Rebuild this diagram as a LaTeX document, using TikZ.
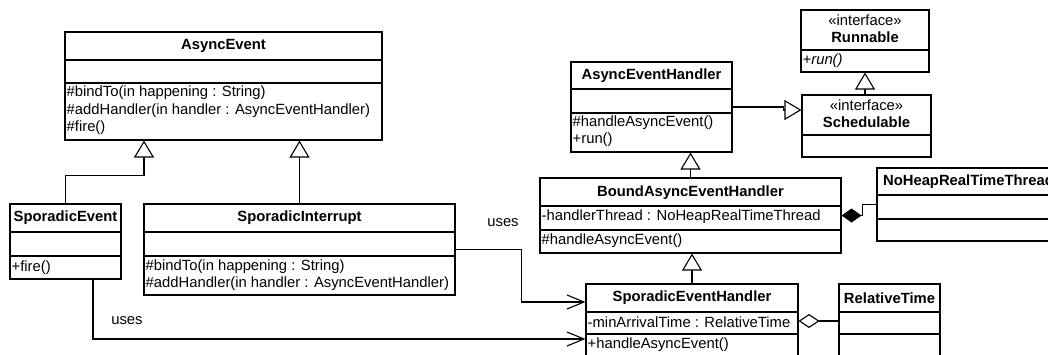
\documentclass[tikz,border=0pt]{standalone}
\usepackage{fontspec}
\setmainfont{Liberation Sans}
\usetikzlibrary{arrows.meta,fit,calc}
\begin{document}
\begin{tikzpicture}[x=1pt,y=-1pt,
  cls/.style={draw, line width=1.1pt, inner sep=0pt},
  ttl/.style={font=\fontsize{14.8}{17}\selectfont\bfseries, inner sep=0pt},
  txt/.style={font=\fontsize{14.8}{17}\selectfont, inner sep=0pt, anchor=west},
  lbl/.style={font=\fontsize{14.8}{17}\selectfont, inner sep=0pt},
  div/.style={line width=1.1pt},
  gen/.style={line width=1.1pt, -{Triangle[open, length=17pt, width=20pt, fill=white]}},
  dep/.style={line width=1.1pt, -{Straight Barb[length=17pt, width=14pt]}},
  comp/.style={line width=1.1pt, {Diamond[length=20pt, width=14pt]}-},
  agg/.style={line width=1.1pt, {Diamond[open, length=21pt, width=14pt, fill=white]}-},
]
\clip (0,0) rectangle (1048,354);
\fill[white] (0,0) rectangle (1048,354);

% AsyncEvent
\node[cls, fit={(65,32) (382,140)}] (ae) {};
\node[ttl] (aet) at (223.5,46) {AsyncEvent};
\draw[div] (ae.west |- 0,60) -- (ae.east |- 0,60);
\draw[div] (ae.west |- 0,83) -- (ae.east |- 0,83);
\node[txt] (ae1) at (66.5,93) {\#bindTo(in happening : String)};
\node[txt] (ae2) at (66.5,111) {\#addHandler(in handler : AsyncEventHandler)};
\node[txt] (ae3) at (66.5,128) {\#fire()};

% SporadicEvent
\node[cls, fit={(10,204) (121,279)}] (se) {};
\node[ttl] (set) at (65.5,218) {SporadicEvent};
\draw[div] (se.west |- 0,232) -- (se.east |- 0,232);
\draw[div] (se.west |- 0,256) -- (se.east |- 0,256);
\node[txt] (se1) at (11.5,268) {+fire()};

% SporadicInterrupt
\node[cls, fit={(144,204) (455,295)}] (si) {};
\node[ttl] (sit) at (299.5,218) {SporadicInterrupt};
\draw[div] (si.west |- 0,232) -- (si.east |- 0,232);
\draw[div] (si.west |- 0,256) -- (si.east |- 0,256);
\node[txt] (si1) at (145.5,267) {\#bindTo(in happening : String)};
\node[txt] (si2) at (145.5,284) {\#addHandler(in handler : AsyncEventHandler)};

% Runnable
\node[cls, fit={(801,10) (929,72)}] (run) {};
\node[lbl] (runs) at (865,20) {«interface»};
\node[ttl] (runt) at (865,37) {Runnable};
\draw[div] (run.west |- 0,50) -- (run.east |- 0,50);
\node[txt] (run1) at (802.5,61) {\itshape +run()};

% Schedulable
\node[cls, fit={(802,95) (931,157)}] (sched) {};
\node[lbl] (scheds) at (866.5,105) {«interface»};
\node[ttl] (schedt) at (866.5,122) {Schedulable};
\draw[div] (sched.west |- 0,135) -- (sched.east |- 0,135);

% AsyncEventHandler
\node[cls, fit={(571,62) (732,152)}] (aeh) {};
\node[ttl] (aeht) at (651.5,76) {AsyncEventHandler};
\draw[div] (aeh.west |- 0,89) -- (aeh.east |- 0,89);
\draw[div] (aeh.west |- 0,113) -- (aeh.east |- 0,113);
\node[txt] (aeh1) at (572.5,123) {\#handleAsyncEvent()};
\node[txt] (aeh2) at (572.5,140) {+run()};

% BoundAsyncEventHandler
\node[cls, fit={(540,178) (841,253)}] (baeh) {};
\node[ttl] (baeht) at (690.5,193) {BoundAsyncEventHandler};
\draw[div] (baeh.west |- 0,206) -- (baeh.east |- 0,206);
\draw[div] (baeh.west |- 0,230) -- (baeh.east |- 0,230);
\node[txt] (baeh1) at (541.5,217) {-handlerThread : NoHeapRealTimeThread};
\node[txt] (baeh2) at (541.5,241) {\#handleAsyncEvent()};

% NoHeapRealTimeThread
\node[cls, fit={(877,168) (1060,241)}] (nh) {};
\node[ttl] (nht) at (968.5,182) {NoHeapRealTimeThread};
\draw[div] (nh.west |- 0,195) -- (nh.east |- 0,195);
\draw[div] (nh.west |- 0,219) -- (nh.east |- 0,219);

% SporadicEventHandler
\node[cls, fit={(586,284) (798,358)}] (seh) {};
\node[ttl] (seht) at (692,298) {SporadicEventHandler};
\draw[div] (seh.west |- 0,312) -- (seh.east |- 0,312);
\draw[div] (seh.west |- 0,334) -- (seh.east |- 0,334);
\node[txt] (seh1) at (587.5,322) {-minArrivalTime : RelativeTime};
\node[txt] (seh2) at (587.5,345) {+handleAsyncEvent()};

% RelativeTime
\node[cls, fit={(839,284) (940,358)}] (rt) {};
\node[ttl] (rtt) at (889.5,298) {RelativeTime};
\draw[div] (rt.west |- 0,312) -- (rt.east |- 0,312);
\draw[div] (rt.west |- 0,334) -- (rt.east |- 0,334);

% connectors
\draw[gen] (se.north) -- ++(0,-28) -| ([xshift=-79.5pt]ae.south);
\draw[gen] (si.north) -- (si.north |- ae.south);
\draw[gen] (baeh.north) -- (baeh.north |- aeh.south);
\draw[gen] (seh.north) -- (seh.north |- baeh.south);
\draw[gen] (run.south |- sched.north) -- (run.south);
\draw[gen] (aeh.east) -- ++(51,0) -- ++(0,3) -- ([yshift=16pt]sched.west);
\draw[comp] (baeh.east) -- ++(21,0) |- (nh.west);
\draw[agg] (seh.east) -- (rt.west);
\draw[dep] (si.east) -- ++(66,0) |- ([yshift=19pt]seh.west);
\draw[dep] ([xshift=27.5pt]se.south) |- ([yshift=-18pt]seh.west);

\node[lbl] (u1) at (503,223) {uses};
\node[lbl] (u2) at (127,321) {uses};
\end{tikzpicture}
\end{document}
